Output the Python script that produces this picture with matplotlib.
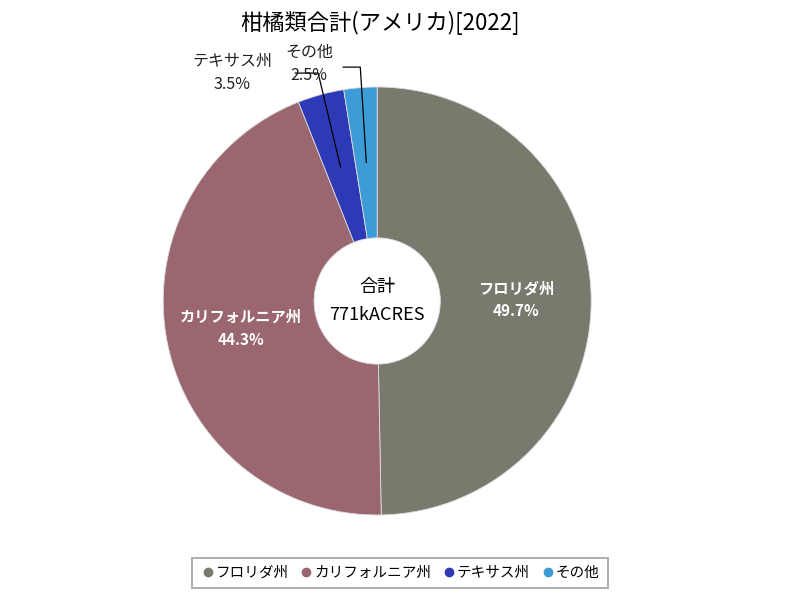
import numpy as np
import matplotlib
matplotlib.use("Agg")
import matplotlib.pyplot as plt
from matplotlib.lines import Line2D

plt.rcParams['font.family'] = ['Noto Sans CJK JP', 'DejaVu Sans']

labels = ["フロリダ州", "カリフォルニア州", "テキサス州", "その他"]
shares = [49.7, 44.3, 3.5, 2.5]
colors = ["#797a6d", "#9a6670", "#2e3ab5", "#3d9bd8"]
total_text = "合計\n771kACRES"
title = "柑橘類合計(アメリカ)[2022]"

fig = plt.figure(figsize=(8, 6), dpi=100)
ax = fig.add_axes([0.204, 0.1417, 0.535, 0.7133])

wedges, _ = ax.pie(shares, colors=colors, startangle=90, counterclock=False,
                   radius=1.0, wedgeprops=dict(width=0.705, edgecolor="#dddddd", linewidth=0.6))
ax.set_xlim(-1, 1)
ax.set_ylim(-1, 1)
ax.set_aspect('equal')

ax.text(0, 0, total_text, ha='center', va='center', fontsize=13, linespacing=1.75)

# inside labels for big slices, callouts for small ones
callouts = {2: ((-0.678, 1.065), (-0.383, 1.065), (-0.276, 1.065)),
            3: ((-0.318, 1.107), (-0.159, 1.093), (-0.079, 1.093))}
for i, w in enumerate(wedges):
    mid = np.deg2rad((w.theta1 + w.theta2) / 2)
    txt = f"{labels[i]}\n{shares[i]:.1f}%"
    if i in callouts:
        (lx, ly), (hx0, hy0), (hx1, hy1) = callouts[i]
        px, py = 0.65 * np.cos(mid), 0.65 * np.sin(mid)
        ax.plot([hx0, hx1, px], [hy0, hy1, py], color="black", lw=0.9, clip_on=False)
        ax.text(lx, ly, txt, ha='center', va='center', fontsize=11.5, linespacing=1.45,
                color="#222222")
    else:
        ax.text(0.648 * np.cos(mid), 0.648 * np.sin(mid), txt, ha='center', va='center',
                fontsize=11, color="white", fontweight='bold', linespacing=1.5)

fig.text(0.475, 0.962, title, ha='center', va='center', fontsize=16)

handles = [Line2D([], [], marker='o', linestyle='none', markersize=6,
                  markerfacecolor=c, markeredgecolor=c) for c in colors]
leg = fig.legend(handles, labels, loc='center', bbox_to_anchor=(0.5, 0.045), ncol=4,
                 frameon=True, fancybox=False, edgecolor="#888888", fontsize=10.5,
                 handletextpad=0.05, columnspacing=0.7, borderpad=0.55, handlelength=1.0)
leg.get_frame().set_linewidth(1.2)

fig.savefig("out.png", dpi=100)
